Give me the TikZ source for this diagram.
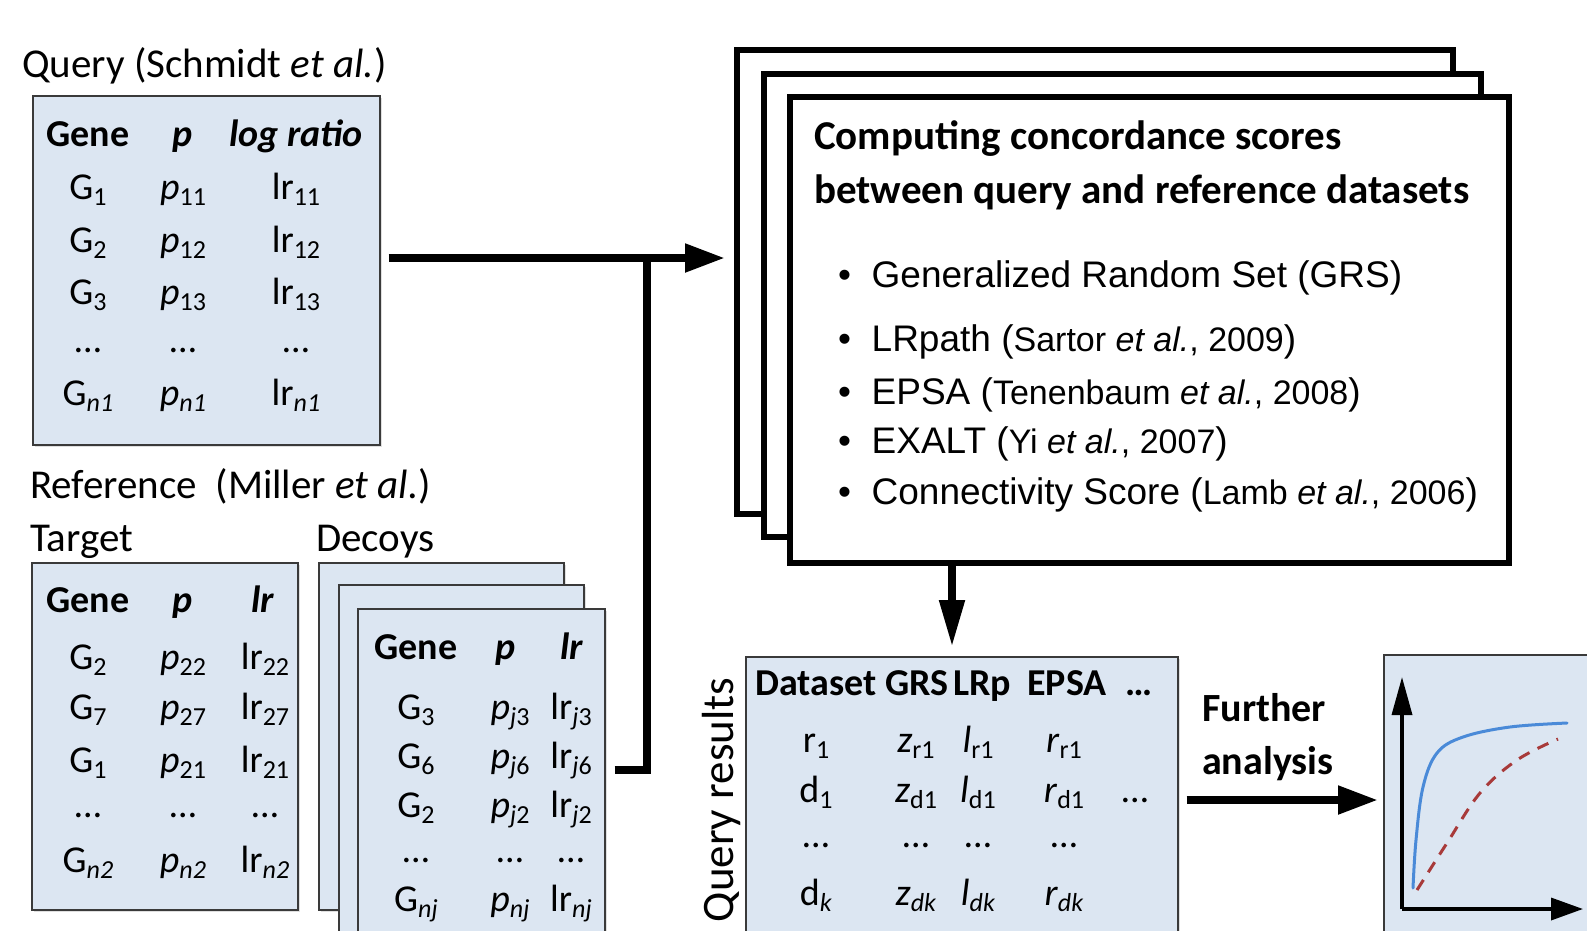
\documentclass[tikz,border=0pt]{standalone}
\usepackage{fontspec}
\setmainfont{Carlito}
\newfontfamily\arialfont{Liberation Sans}
\usetikzlibrary{arrows.meta,shadows}

\definecolor{boxblue}{HTML}{DCE6F2}
\definecolor{boxline}{HTML}{3A3A3A}
\definecolor{curveblue}{HTML}{4A8AD8}
\definecolor{curvered}{HTML}{A83A3A}

\newcommand{\lo}[1]{\raisebox{-6pt}{\fsz{26}#1}}
\newcommand{\fsz}[1]{\fontsize{#1}{#1}\selectfont}
\newcommand{\cit}[1]{{\fsz{34}#1}}

\tikzset{
	tblbox/.style={draw=boxline, line width=1.5pt, fill=boxblue, anchor=north west, inner sep=0pt,
		drop shadow={opacity=0.25, shadow xshift=2pt, shadow yshift=-2pt}},
	stackbox/.style={draw=black, line width=5.5pt, fill=white, anchor=north west, inner sep=0pt},
	cell/.style={font=\fsz{38}, inner sep=0pt, anchor=base, yshift=-12pt},
	label/.style={font=\fsz{41}, inner sep=0pt, anchor=west},
	bullet/.style={font=\arialfont\fsz{37}, inner sep=0pt, anchor=west},
	flowline/.style={line width=8pt},
}

\begin{document}
\begin{tikzpicture}[x=1pt, y=-1pt]
		%%%%% START %%%%%
		\useasboundingbox (0,0) rectangle (1587,930);
		\clip (0,0) rectangle (1587,930);
		
		% query table
		\node[label] (qlabel) at (22,66) {Query (Schmidt \textit{et al.})};
		\node[tblbox, minimum width=347pt, minimum height=349pt] (query) at (32,95) {};
		\node[cell] (q-0-a) at (88,134) {\textbf{Gene}};
		\node[cell] (q-0-b) at (183,134) {\textbf{\textit{p}}};
		\node[cell] (q-0-c) at (296,134) {\textbf{\textit{log ratio}}};
		\foreach \yy/\ca/\cb/\cc [count=\r] in {187/G\lo{1}/\textit{p}\lo{11}/lr\lo{11},
				240/G\lo{2}/\textit{p}\lo{12}/lr\lo{12}, 292/G\lo{3}/\textit{p}\lo{13}/lr\lo{13},
				340/…/…/…, 393/G\lo{\textit{n1}}/\textit{p}\lo{\textit{n1}}/lr\lo{\textit{n1}}}{
			\node[cell] (q-\r-a) at (88,\yy) {\ca};
			\node[cell] (q-\r-b) at (183,\yy) {\cb};
			\node[cell] (q-\r-c) at (296,\yy) {\cc};
		}
		
		% reference: target and decoys
		\node[label] (rlabel) at (30,486) {Reference\ \ (Miller \textit{et al.})};
		\node[label] (tlabel) at (30,542) {Target};
		\node[label] (dlabel) at (316,542) {Decoys};
		
		\node[tblbox, minimum width=266pt, minimum height=347pt] (target) at (31,562) {};
		\node[cell] (t-0-a) at (88,600) {\textbf{Gene}};
		\node[cell] (t-0-b) at (183,600) {\textbf{\textit{p}}};
		\node[cell] (t-0-c) at (263,600) {\textbf{\textit{lr}}};
		\foreach \yy/\ca/\cb/\cc [count=\r] in {657/G\lo{2}/\textit{p}\lo{22}/lr\lo{22},
				707/G\lo{7}/\textit{p}\lo{27}/lr\lo{27}, 760/G\lo{1}/\textit{p}\lo{21}/lr\lo{21},
				805/…/…/…, 860/G\lo{\textit{n2}}/\textit{p}\lo{\textit{n2}}/lr\lo{\textit{n2}}}{
			\node[cell] (t-\r-a) at (88,\yy) {\ca};
			\node[cell] (t-\r-b) at (183,\yy) {\cb};
			\node[cell] (t-\r-c) at (265,\yy) {\cc};
		}
		
		\node[tblbox, minimum width=245pt, minimum height=347pt] (decoyA) at (318,562) {};
		\node[tblbox, minimum width=245pt, minimum height=370pt] (decoyB) at (338,584) {};
		\node[tblbox, minimum width=247pt, minimum height=360pt] (decoyC) at (357,608) {};
		\node[cell] (d-0-a) at (416,647) {\textbf{Gene}};
		\node[cell] (d-0-b) at (506,647) {\textbf{\textit{p}}};
		\node[cell] (d-0-c) at (572,647) {\textbf{\textit{lr}}};
		\foreach \yy/\ca/\cb/\cc [count=\r] in {707/G\lo{3}/\textit{p}\lo{\textit{j}3}/lr\lo{\textit{j}3},
				756/G\lo{6}/\textit{p}\lo{\textit{j}6}/lr\lo{\textit{j}6}, 805/G\lo{2}/\textit{p}\lo{\textit{j}2}/lr\lo{\textit{j}2},
				850/…/…/…, 899/G\lo{\textit{nj}}/\textit{p}\lo{\textit{nj}}/lr\lo{\textit{nj}}}{
			\node[cell] (d-\r-a) at (416,\yy) {\ca};
			\node[cell] (d-\r-b) at (510,\yy) {\cb};
			\node[cell] (d-\r-c) at (571,\yy) {\cc};
		}
		
		% concordance stack
		\node[stackbox, minimum width=716pt, minimum height=464pt] (stackA) at (734,47) {};
		\node[stackbox, minimum width=717pt, minimum height=463pt] (stackB) at (761,71) {};
		\node[stackbox, minimum width=719pt, minimum height=466pt] (stackC) at (787,94) {};
		\node[anchor=west, align=left, inner sep=0pt, font=\bfseries\fontsize{41}{54}\selectfont] (title) at (814,165)
			{Computing concordance scores\\between query and reference datasets};
		\node[bullet] (b1) at (838,278) {•\ \ Generalized Random Set (GRS)};
		\node[bullet] (b2) at (838,342) {•\ \ LRpath (\cit{Sartor \textit{et al.}, 2009})};
		\node[bullet] (b3) at (838,395) {•\ \ EPSA (\cit{Tenenbaum \textit{et al.}, 2008})};
		\node[bullet] (b4) at (838,444) {•\ \ EXALT (\cit{Yi \textit{et al.}, 2007})};
		\node[bullet] (b5) at (838,495) {•\ \ Connectivity Score (\cit{Lamb \textit{et al.}, 2006})};
		
		% query results
		\node[tblbox, minimum width=432pt, minimum height=310pt] (results) at (745,656) {};
		\node[label, anchor=center, rotate=90, font=\fsz{45}] (qrlabel) at (721,800) {Query results};
		\foreach \xx/\hd [count=\c] in {816/Dataset, 917/GRS, 982/LRp, 1067/EPSA, 1139/…}{
			\node[cell] (r-0-\c) at (\xx,683) {\textbf{\hd}};
		}
		\foreach \yy/\ca/\cb/\cc/\cd/\ce [count=\r] in {740/r\lo{1}/\textit{z}\lo{r1}/\textit{l}\lo{r1}/\textit{r}\lo{r1}/{},
				790/d\lo{1}/\textit{z}\lo{d1}/\textit{l}\lo{d1}/\textit{r}\lo{d1}/…,
				835/…/…/…/…/{}, 893/d\lo{\textit{k}}/\textit{z}\lo{\textit{dk}}/\textit{l}\lo{\textit{dk}}/\textit{r}\lo{\textit{dk}}/{}}{
			\node[cell] (r-\r-1) at (816,\yy) {\ca};
			\node[cell] (r-\r-2) at (916,\yy) {\cb};
			\node[cell] (r-\r-3) at (978,\yy) {\cc};
			\node[cell] (r-\r-4) at (1064,\yy) {\cd};
			\node[cell] (r-\r-5) at (1135,\yy) {\ce};
		}
		
		% further analysis
		\node[anchor=west, align=left, inner sep=0pt, font=\bfseries\fontsize{40}{53}\selectfont] (further) at (1202,737)
			{Further\\analysis};
		\node[tblbox, minimum width=230pt, minimum height=320pt] (plot) at (1383,654) {};
		\coordinate (orig) at (1402,909);
		\draw[line width=3.5pt, -{Triangle[length=38pt,width=20pt]}] (orig) -- (1402,677);
		\draw[line width=3.5pt, -{Triangle[length=32pt,width=22pt]}] (orig) -- (1583,909);
		\draw[curveblue, line width=3pt, line cap=round] plot[smooth, tension=0.6] coordinates
			{(1413,888) (1416,840) (1423,787) (1437,753) (1463,737) (1510,727) (1567,723)};
		\draw[curvered, line width=3pt, dash pattern=on 12pt off 9pt] plot[smooth, tension=0.6] coordinates
			{(1417,890) (1447,843) (1480,793) (1517,760) (1558,739)};
		
		% connectors
		\coordinate (joint) at (647,258);
		\coordinate (bend) at (647,770);
		\coordinate (drop) at (952,0);
		\coordinate (fa) at (0,800);
		\draw[flowline, -{Triangle[length=40pt,width=27pt]}, shorten <=8pt, shorten >=9pt]
			(query.east |- joint) -- (stackA.west |- joint);
		\draw[flowline, shorten <=9pt] (decoyC.east |- bend) -- (bend) -- (joint);
		\draw[flowline, -{Triangle[length=47pt,width=24pt]}, shorten >=9pt]
			(stackC.south -| drop) -- (results.north -| drop);
		\draw[flowline, -{Triangle[length=40pt,width=27pt]}, shorten <=8pt, shorten >=5pt]
			(results.east |- fa) -- (plot.west |- fa);
		
		%%%%% END %%%%%
	\end{tikzpicture}
\end{document}
